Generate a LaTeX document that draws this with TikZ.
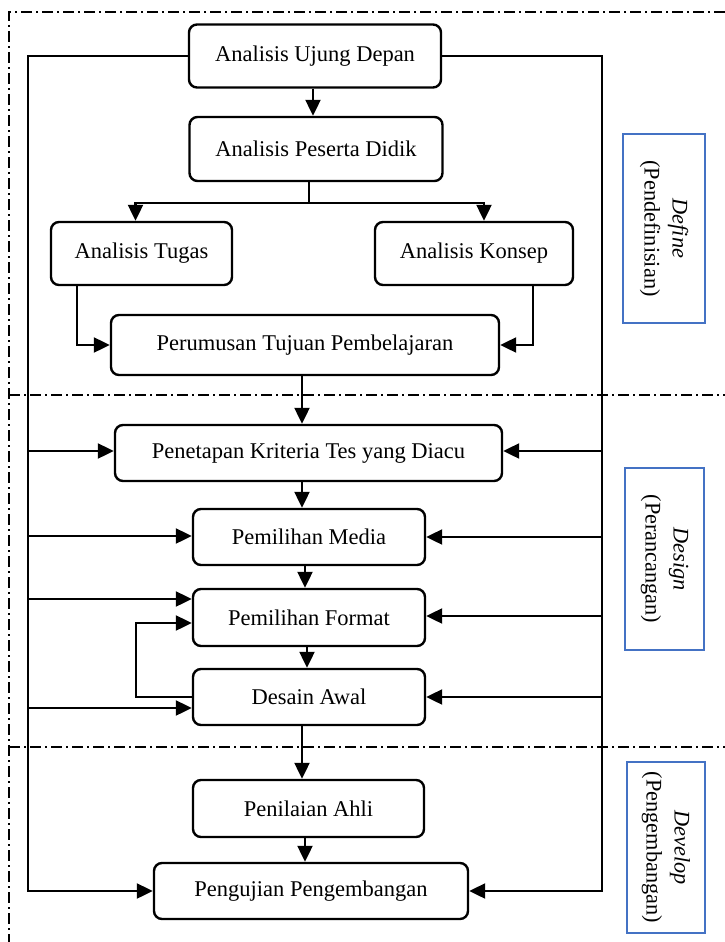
\documentclass[tikz,border=0pt]{standalone}
\usepackage{fontspec}
\setmainfont{Liberation Serif}
\usetikzlibrary{arrows.meta,calc}
\definecolor{lblblue}{RGB}{68,114,196}
\begin{document}
\begin{tikzpicture}[x=1pt,y=-1pt,
  box/.style={draw, rounded corners=8pt, line width=2.4pt, inner sep=0pt,
    font=\fontsize{22.5}{26}\selectfont},
  lbl/.style={draw=lblblue, line width=1.6pt, inner sep=0pt,
    font=\fontsize{22.3}{28}\selectfont},
  conn/.style={line width=2.2pt},
  arr/.style={line width=2.2pt, -{Triangle[length=16pt,width=15pt]}},
  dashdot/.style={line width=1.1pt, dash pattern=on 11pt off 4pt on 2pt off 4pt}]
\useasboundingbox (0,0) rectangle (725,942);
% phase frame
\coordinate (tl) at (9,12);
\coordinate (tr) at (725,12);
\coordinate (bl) at (9,942);
\coordinate (m1l) at (9,395);
\coordinate (m1r) at (725,395);
\coordinate (m2l) at (9,747);
\coordinate (m2r) at (725,747);
\draw[dashdot] (tr) -- (tl) -- (bl);
\draw[dashdot] (m1l) -- (m1r);
\draw[dashdot] (m2l) -- (m2r);
% nodes
\node[box, minimum width=252pt, minimum height=63pt] (AUD) at (315,56) {Analisis Ujung Depan};
\node[box, minimum width=253pt, minimum height=64pt] (APD) at (316,149) {Analisis Peserta Didik};
\node[box, minimum width=181pt, minimum height=63pt] (AT) at (141.5,253.5) {Analisis Tugas};
\node[box, minimum width=198pt, minimum height=63pt] (AK) at (474,253.5) {Analisis Konsep};
\node[box, minimum width=388pt, minimum height=60pt] (PTP) at (305,345) {Perumusan Tujuan Pembelajaran};
\node[box, minimum width=387pt, minimum height=56pt] (PKT) at (308.5,453) {Penetapan Kriteria Tes yang Diacu};
\node[box, minimum width=232pt, minimum height=56pt] (PM) at (309,537) {Pemilihan Media};
\node[box, minimum width=232pt, minimum height=57pt] (PF) at (309,617.5) {Pemilihan Format};
\node[box, minimum width=232pt, minimum height=56pt] (DA) at (309,697) {Desain Awal};
\node[box, minimum width=231pt, minimum height=57pt] (PA) at (308.5,808.5) {Penilaian Ahli};
\node[box, minimum width=314pt, minimum height=56pt] (PU) at (311,891) {Pengujian Pengembangan};
% phase labels
\node[lbl, minimum width=189pt, minimum height=82pt, rotate=-90, align=center] (Ldef) at (664,228.5) {\textit{Define}\\(Pendefinisian)};
\node[lbl, minimum width=182pt, minimum height=79pt, rotate=-90, align=center] (Ldes) at (664.5,559) {\textit{Design}\\(Perancangan)};
\node[lbl, minimum width=171pt, minimum height=78pt, rotate=-90, align=center] (Ldev) at (666,847.5) {\textit{Develop}\\(Pengembangan)};
% helper coordinates
\coordinate (L) at (28,0);
\coordinate (R) at (602,0);
\coordinate (br) at (309,203);
% top part
\draw[arr] (AUD.south -| 313,0) -- (APD.north -| 313,0);
\draw[conn] (APD.south -| br) -- (br);
\draw[arr] (br) -| ($(AT.north)+(-6,0)$);
\draw[arr] (br) -| ($(AK.north)+(10,0)$);
\draw[arr] ($(AT.south west)+(27,0)$) |- (PTP.west);
\draw[arr] ($(AK.south east)+(-41,0)$) |- (PTP.east);
% vertical chain
\draw[arr] (PTP.south -| 302,0) -- (PKT.north -| 302,0);
\draw[arr] (PKT.south -| 302,0) -- (PM.north -| 302,0);
\draw[arr] (PM.south -| 305,0) -- (PF.north -| 305,0);
\draw[arr] (PF.south -| 307,0) -- (DA.north -| 307,0);
\draw[arr] (DA.south -| 302,0) -- (PA.north -| 302,0);
\draw[arr] (PA.south -| 305,0) -- (PU.north -| 305,0);
% outer loops
\draw[arr] (AUD.west) -| (L |- PU) -- (PU.west);
\draw[arr] (AUD.east) -| (R |- PU) -- (PU.east);
\draw[arr] (L |- 0,451) -- (PKT.west |- 0,451);
\draw[arr] (L |- 0,536) -- (PM.west |- 0,536);
\draw[arr] (L |- 0,599) -- (PF.west |- 0,599);
\draw[arr] (L |- 0,708) -- (DA.west |- 0,708);
\draw[arr] (R |- 0,451) -- (PKT.east |- 0,451);
\draw[arr] (R |- 0,537) -- (PM.east |- 0,537);
\draw[arr] (R |- 0,616) -- (PF.east |- 0,616);
\draw[arr] (R |- 0,697) -- (DA.east |- 0,697);
% inner feedback loop
\draw[arr] (DA.west) -| (136,660) |- (PF.west |- 0,623);
\end{tikzpicture}
\end{document}
